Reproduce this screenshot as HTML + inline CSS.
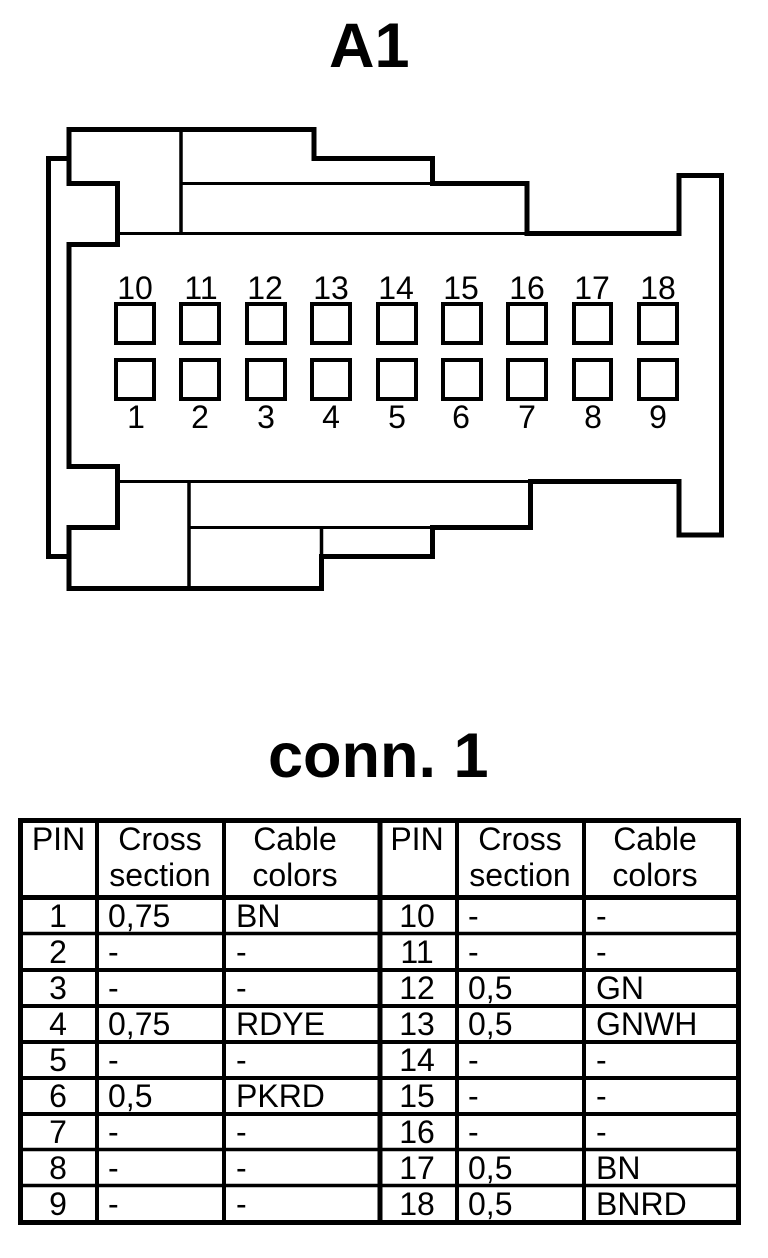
<!DOCTYPE html>
<html><head><meta charset="utf-8"><style>
html,body{margin:0;padding:0;background:#fff;width:768px;height:1258px;overflow:hidden}
svg{display:block}
text{font-family:"Liberation Sans",Arial,sans-serif;fill:#000}
.p{font-size:32px;text-anchor:middle}
.c{font-size:32px;text-anchor:middle}
.l{font-size:32px}
.t{font-size:63px;font-weight:bold}
</style></head><body>
<svg width="768" height="1258" viewBox="0 0 768 1258" xmlns="http://www.w3.org/2000/svg">
<rect width="768" height="1258" fill="#fff"/>
<text class="t" x="329" y="67">A1</text>
<text class="t" x="268" y="777">conn. 1</text>

<g fill="none" stroke="#000" stroke-width="5" stroke-linecap="square" stroke-linejoin="miter">
<path d="M69 129.5H314V158.5H432.5V183.5H527V233.5H679V175.5H721.5V535H679V481.5H530.5V527.5H432.5V556.5H321.5V588.5H69V527.5H117.5V466.5H69V244.5H117.5V183.5H69Z"/>
<path d="M69 158.5H48.5V556.5H69"/>
</g>
<g fill="none" stroke="#000" stroke-width="3">
<path d="M117.5 233.5H527M117.5 481.5H530M181 183.5H432M189 527.5H432"/>
<path d="M181 130V233.5M189 481.5V588M321.5 527.5V556" stroke-width="3.5"/>
</g>

<g fill="none" stroke="#000" stroke-width="4">
<rect x="116" y="304" width="38" height="39"/><rect x="181" y="304" width="38" height="39"/><rect x="247" y="304" width="38" height="39"/><rect x="312" y="304" width="38" height="39"/><rect x="378" y="304" width="38" height="39"/><rect x="443" y="304" width="38" height="39"/><rect x="508" y="304" width="38" height="39"/><rect x="574" y="304" width="37" height="39"/><rect x="639" y="304" width="38" height="39"/>
<rect x="116" y="360" width="38" height="39"/><rect x="181" y="360" width="38" height="39"/><rect x="247" y="360" width="38" height="39"/><rect x="312" y="360" width="38" height="39"/><rect x="378" y="360" width="38" height="39"/><rect x="443" y="360" width="38" height="39"/><rect x="508" y="360" width="38" height="39"/><rect x="574" y="360" width="37" height="39"/><rect x="639" y="360" width="38" height="39"/>
</g>
<g class="pins">
<text class="p" x="135" y="299">10</text><text class="p" x="201" y="299">11</text><text class="p" x="265" y="299">12</text><text class="p" x="331" y="299">13</text><text class="p" x="396" y="299">14</text><text class="p" x="461" y="299">15</text><text class="p" x="527" y="299">16</text><text class="p" x="592" y="299">17</text><text class="p" x="658" y="299">18</text>
<text class="p" x="136" y="428">1</text><text class="p" x="200" y="428">2</text><text class="p" x="266" y="428">3</text><text class="p" x="331" y="428">4</text><text class="p" x="397" y="428">5</text><text class="p" x="461" y="428">6</text><text class="p" x="527" y="428">7</text><text class="p" x="593" y="428">8</text><text class="p" x="658" y="428">9</text>
</g>

<g fill="none" stroke="#000">
<rect x="20.5" y="820.5" width="718" height="402" stroke-width="5"/>
<path stroke-width="5" d="M18 897.5H741M380 820V1224"/>
<path stroke-width="4" d="M97 820V1224M224 820V1224M457 820V1224M584 820V1224M20 970H740M20 1006H740M20 1042H740M20 1078H740M20 1114H740"/>
<path stroke-width="3.5" d="M20 933.5H740M20 1149.5H740M20 1185.5H740"/>
</g>

<text class="c" x="58.5" y="850">PIN</text><text class="c" x="160" y="850">Cross</text><text class="c" x="160" y="886">section</text><text class="c" x="295" y="850">Cable</text><text class="c" x="295" y="886">colors</text>
<text class="c" x="417" y="850">PIN</text><text class="c" x="520" y="850">Cross</text><text class="c" x="520" y="886">section</text><text class="c" x="655" y="850">Cable</text><text class="c" x="655" y="886">colors</text>

<text class="c" x="58" y="927">1</text><text class="l" x="108" y="927">0,75</text><text class="l" x="236" y="927">BN</text><text class="c" x="417" y="927">10</text><text class="l" x="468" y="927">-</text><text class="l" x="596" y="927">-</text>
<text class="c" x="58" y="963">2</text><text class="l" x="108" y="963">-</text><text class="l" x="236" y="963">-</text><text class="c" x="417" y="963">11</text><text class="l" x="468" y="963">-</text><text class="l" x="596" y="963">-</text>
<text class="c" x="58" y="999">3</text><text class="l" x="108" y="999">-</text><text class="l" x="236" y="999">-</text><text class="c" x="417" y="999">12</text><text class="l" x="468" y="999">0,5</text><text class="l" x="596" y="999">GN</text>
<text class="c" x="58" y="1035">4</text><text class="l" x="108" y="1035">0,75</text><text class="l" x="236" y="1035">RDYE</text><text class="c" x="417" y="1035">13</text><text class="l" x="468" y="1035">0,5</text><text class="l" x="596" y="1035">GNWH</text>
<text class="c" x="58" y="1071">5</text><text class="l" x="108" y="1071">-</text><text class="l" x="236" y="1071">-</text><text class="c" x="417" y="1071">14</text><text class="l" x="468" y="1071">-</text><text class="l" x="596" y="1071">-</text>
<text class="c" x="58" y="1107">6</text><text class="l" x="108" y="1107">0,5</text><text class="l" x="236" y="1107">PKRD</text><text class="c" x="417" y="1107">15</text><text class="l" x="468" y="1107">-</text><text class="l" x="596" y="1107">-</text>
<text class="c" x="58" y="1143">7</text><text class="l" x="108" y="1143">-</text><text class="l" x="236" y="1143">-</text><text class="c" x="417" y="1143">16</text><text class="l" x="468" y="1143">-</text><text class="l" x="596" y="1143">-</text>
<text class="c" x="58" y="1179">8</text><text class="l" x="108" y="1179">-</text><text class="l" x="236" y="1179">-</text><text class="c" x="417" y="1179">17</text><text class="l" x="468" y="1179">0,5</text><text class="l" x="596" y="1179">BN</text>
<text class="c" x="58" y="1215">9</text><text class="l" x="108" y="1215">-</text><text class="l" x="236" y="1215">-</text><text class="c" x="417" y="1215">18</text><text class="l" x="468" y="1215">0,5</text><text class="l" x="596" y="1215">BNRD</text>
</svg>
</body></html>
